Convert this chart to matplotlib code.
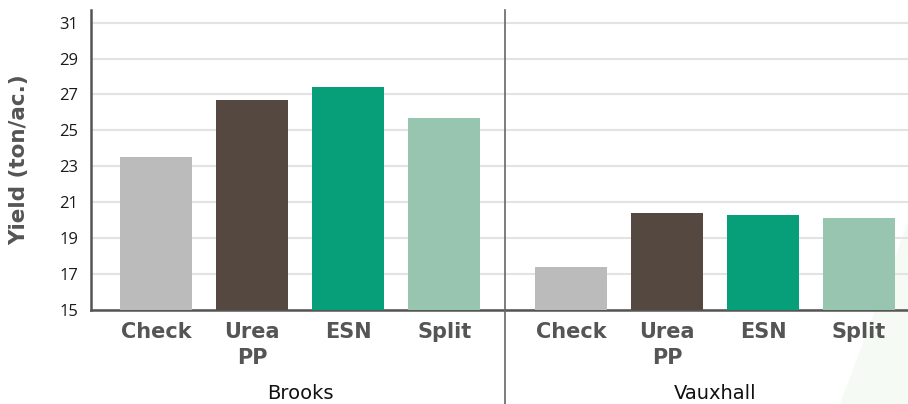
import matplotlib
matplotlib.use("Agg")
import matplotlib.pyplot as plt
from matplotlib.patches import Polygon

# data
treatments = ["Check", "Urea\nPP", "ESN", "Split"]
sites = ["Brooks", "Vauxhall"]
brooks = [23.5, 26.7, 27.4, 25.7]
vauxhall = [17.4, 20.4, 20.3, 20.1]
colors = ["#bbbbbb", "#544840", "#079f79", "#98c5b0"]
yticks = [15, 17, 19, 21, 23, 25, 27, 29, 31]

W, H = 908, 404
fig = plt.figure(figsize=(W / 100, H / 100), dpi=100)

# faint decorative wedge bottom-right
fig.patches.append(Polygon([(840 / W, 0), (1, 0), (1, 1 - 222 / H)],
                           closed=True, transform=fig.transFigure,
                           facecolor="#f6faf4", edgecolor="none", zorder=-5))

ax = fig.add_axes([91 / W, 1 - 310 / H, (W - 91) / W, (310 - 10) / H])
ax.set_facecolor("none")

gap = 1.32
xs_b = [i for i in range(4)]
xs_v = [i + 3 + gap for i in range(4)]
ax.bar(xs_b, [b - 15 for b in brooks], bottom=15, width=0.75, color=colors, zorder=3)
ax.bar(xs_v, [v - 15 for v in vauxhall], bottom=15, width=0.75, color=colors, zorder=3)

ax.set_xlim(-0.68, 7.83)
ax.set_ylim(15, 31.7)
ax.set_yticks(yticks)
ax.yaxis.grid(True, color="#e3e3e3", linewidth=1.5, zorder=0)
ax.tick_params(axis="y", length=0, labelsize=12, labelcolor="#1a1a1a", pad=9)
for t in ax.get_yticklabels():
    t.set_family("Open Sans")
ax.tick_params(axis="x", length=0, pad=9)
ax.set_xticks(xs_b + xs_v)
ax.set_xticklabels(treatments * 2, fontsize=15, fontweight="bold",
                   color="#555555", family="DejaVu Sans", linespacing=1.35,
                   va="top")

for s in ["top", "right"]:
    ax.spines[s].set_visible(False)
for s in ["left", "bottom"]:
    ax.spines[s].set_color("#555555")
    ax.spines[s].set_linewidth(1.8)

# divider between sites
div = (xs_b[-1] + xs_v[0]) / 2 - 0.03
ax.plot([div, div], [-0.4, 1.0], transform=ax.get_xaxis_transform(),
        color="#666666", linewidth=1.2, clip_on=False, zorder=4)

for name, xs in zip(sites, [xs_b, xs_v]):
    ax.text(sum(xs) / 4, -0.296, name, transform=ax.get_xaxis_transform(),
            ha="center", va="baseline", fontsize=14, color="#111111",
            family="DejaVu Sans")

ax.set_ylabel("Yield (ton/ac.)", fontsize=15.5, fontweight="bold",
              color="#555555", labelpad=22, family="DejaVu Sans")

fig.savefig("out.png", dpi=100)
